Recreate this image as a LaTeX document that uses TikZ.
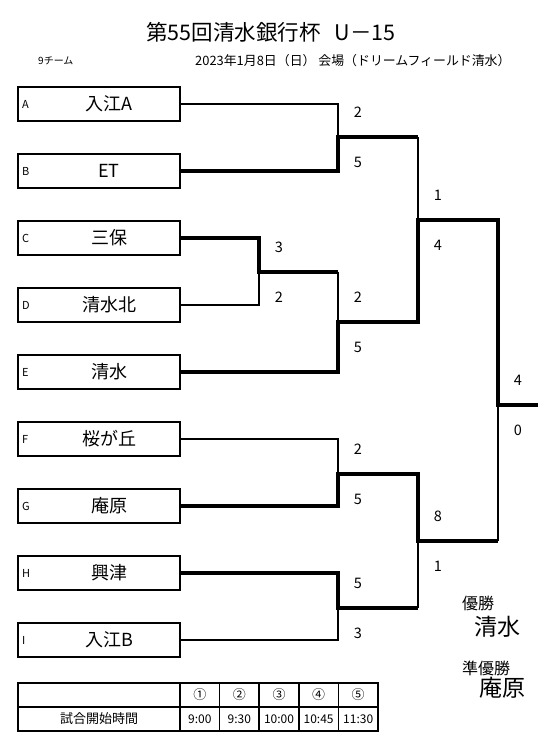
\documentclass[tikz,border=0pt]{standalone}
\usepackage{fontspec}
\setmainfont{Noto Sans CJK JP}
\usetikzlibrary{positioning,calc}
\tikzset{
  team/.style={draw, line width=1.5pt, outer sep=0pt, inner sep=0pt, minimum width=162pt, minimum height=34pt,
    font=\fontsize{18}{18}\selectfont, execute at begin node={\hspace*{20pt}}},
  tag/.style={inner sep=0pt, font=\fontsize{11}{11}\selectfont},
  win/.style={line width=3.5pt},
  lose/.style={line width=1.2pt},
  sc/.style={inner sep=0pt, font=\fontsize{14.5}{14.5}\selectfont},
  sc up/.style={sc, xshift=20pt, yshift=25pt},
  sc dn/.style={sc, xshift=20pt, yshift=-25pt},
  cell/.style={draw, line width=1.5pt, outer sep=0pt, inner sep=0pt, minimum width=39.6pt, minimum height=24pt,
    font=\fontsize{12}{12}\selectfont},
}

\begin{document}
\begin{tikzpicture}[x=1pt, y=-1pt]
  \useasboundingbox (0,0) rectangle (557,752);
  % heading
  \node[font=\fontsize{21.5}{21.5}\selectfont] (title) at (271,32) {第55回清水銀行杯\hspace{14pt}U－15};
  \node[anchor=west, inner sep=0pt, font=\fontsize{10}{10}\selectfont] (nteams) at (38,61) {9チーム};
  \node[anchor=west, inner sep=0pt, font=\fontsize{12.9}{12.9}\selectfont] (date) at (195,61) {2023年1月8日（日） 会場（ドリームフィールド清水）};
  % teams
  \node[team] (A) at (99,104) {入江A};
  \node[team, below=33pt of A] (B) {ET};
  \node[team, below=33pt of B] (C) {三保};
  \node[team, below=33pt of C] (D) {清水北};
  \node[team, below=33pt of D] (E) {清水};
  \node[team, below=33pt of E] (F) {桜が丘};
  \node[team, below=33pt of F] (G) {庵原};
  \node[team, below=33pt of G] (H) {興津};
  \node[team, below=33pt of H] (I) {入江B};
  \node[tag, right=4pt of A.west] (tA) {A};
  \node[tag, right=4pt of B.west] (tB) {B};
  \node[tag, right=4pt of C.west] (tC) {C};
  \node[tag, right=4pt of D.west] (tD) {D};
  \node[tag, right=4pt of E.west] (tE) {E};
  \node[tag, right=4pt of F.west] (tF) {F};
  \node[tag, right=4pt of G.west] (tG) {G};
  \node[tag, right=4pt of H.west] (tH) {H};
  \node[tag, right=4pt of I.west] (tI) {I};
  % junctions
  \coordinate (ab) at (338,137);
  \coordinate (cd) at (259,272);
  \coordinate (cde) at (338,322);
  \coordinate (top) at (418,220);
  \coordinate (fg) at (338,474);
  \coordinate (hi) at (338,608);
  \coordinate (bot) at (418,541);
  \coordinate (fin) at (498,405);
  \coordinate (end) at (538,405);
  % bracket
  \draw[lose] (A.east) -| (ab);
  \draw[win] (B.east) -| (ab) -- (ab -| top);
  \draw[lose] (ab -| top) -- (top);
  \draw[win] (C.east) -| (cd) -- (cd -| cde);
  \draw[lose] (D.east) -| (cd);
  \draw[lose] (cd -| cde) -- (cde);
  \draw[win] (E.east) -| (cde) -| (top) -| (fin) -- (end);
  \draw[lose] (F.east) -| (fg);
  \draw[win] (G.east) -| (fg) -| (bot) -- (bot -| fin);
  \draw[lose] (bot -| fin) -- (fin);
  \draw[win] (H.east) -| (hi) -- (hi -| bot);
  \draw[lose] (hi -| bot) -- (bot);
  \draw[lose] (I.east) -| (hi);
  % scores
  \node[sc up] (s1) at (ab) {2};
  \node[sc dn] (s2) at (ab) {5};
  \node[sc up] (s3) at (cd) {3};
  \node[sc dn] (s4) at (cd) {2};
  \node[sc up] (s5) at (cde) {2};
  \node[sc dn] (s6) at (cde) {5};
  \node[sc up] (s7) at (top) {1};
  \node[sc dn] (s8) at (top) {4};
  \node[sc up] (s9) at (fin) {4};
  \node[sc dn] (s10) at (fin) {0};
  \node[sc up] (s11) at (fg) {2};
  \node[sc dn] (s12) at (fg) {5};
  \node[sc up] (s13) at (hi) {5};
  \node[sc dn] (s14) at (hi) {3};
  \node[sc up] (s15) at (bot) {8};
  \node[sc dn] (s16) at (bot) {1};
  % result
  \node[font=\fontsize{16}{16}\selectfont] (champt) at (478,603) {優勝};
  \node[font=\fontsize{23}{23}\selectfont] (champ) at (497,627) {清水};
  \node[font=\fontsize{16}{16}\selectfont] (secondt) at (486,668) {準優勝};
  \node[font=\fontsize{23}{23}\selectfont] (second) at (502,688) {庵原};
  % kick-off times
  \node[cell, minimum width=162pt] (h0) at (99,695) {};
  \node[cell, right=0pt of h0, font=\fontsize{13}{13}\selectfont] (h1) {①};
  \node[cell, right=0pt of h1, font=\fontsize{13}{13}\selectfont] (h2) {②};
  \node[cell, right=0pt of h2, font=\fontsize{13}{13}\selectfont] (h3) {③};
  \node[cell, right=0pt of h3, font=\fontsize{13}{13}\selectfont] (h4) {④};
  \node[cell, right=0pt of h4, font=\fontsize{13}{13}\selectfont] (h5) {⑤};
  \node[cell, minimum width=162pt, below=0pt of h0, font=\fontsize{13}{13}\selectfont] (t0) {試合開始時間};
  \node[cell, below=0pt of h1] (t1) {9:00};
  \node[cell, below=0pt of h2] (t2) {9:30};
  \node[cell, below=0pt of h3] (t3) {10:00};
  \node[cell, below=0pt of h4] (t4) {10:45};
  \node[cell, below=0pt of h5] (t5) {11:30};
\end{tikzpicture}
\end{document}
